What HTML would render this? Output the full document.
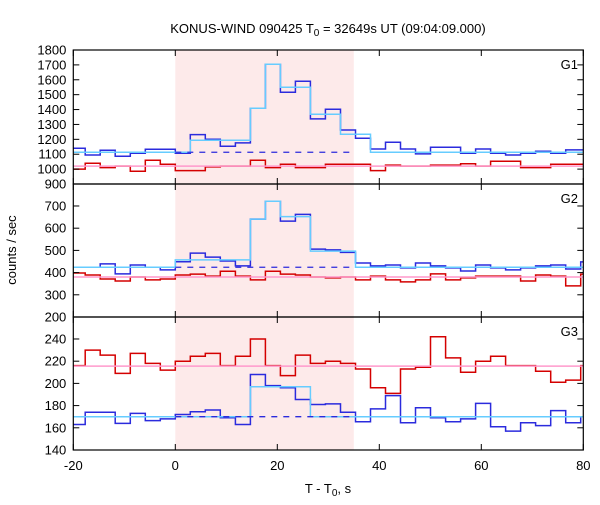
<!DOCTYPE html>
<html><head><meta charset="utf-8"><style>
body{margin:0;background:#fff}
text{font-family:"Liberation Sans","DejaVu Sans",sans-serif;font-size:13px;fill:#000}
</style></head><body>
<svg id="c" width="600" height="500" xmlns="http://www.w3.org/2000/svg"></svg>
<script>
const binWidth = 2.944;
const binStart = -7;
const g1Blue = [1140,1095,1127,1087,1107,1134,1134,1107,1232,1201,1154,1176,1409,1704,1516,1590,1337,1402,1263,1207,1135,1180,1135,1102,1147,1147,1107,1135,1107,1095,1107,1120,1107,1129,1129];
const g1Cyan = [1113,1113,1113,1113,1113,1113,1113,1113,1194,1194,1194,1194,1409,1704,1550,1550,1368,1368,1234,1234,1113,1113,1113,1113,1113,1113,1113,1113,1113,1113,1113,1113,1113,1113,1113];
const g1Red = [1000,1040,1010,1020,986,1060,1033,990,990,1015,1020,1020,1060,1010,1033,1010,1010,1033,1033,1033,990,1027,1020,1020,1027,1027,1036,1020,1053,1053,1010,1010,1033,1033,1033];
const g1Bg = 1113, g1Fit = 1020;
const g2Blue = [424,424,439,394,434,424,412,449,488,470,452,430,641,721,632,662,506,502,491,443,430,434,421,443,430,421,407,434,421,412,421,430,434,416,448];
const g2Cyan = [424,424,424,424,424,424,424,457,457,457,457,457,641,721,652,652,497,497,497,424,424,424,424,424,424,424,424,424,424,424,424,424,424,424,424];
const g2Red = [398,389,371,362,380,367,371,389,393,384,406,384,367,406,393,389,380,376,380,367,384,367,358,367,394,367,376,384,384,384,362,389,384,340,393];
const g2Bg = 424, g2Fit = 380;
const g3Blue = [163,174,174,164,173,166.5,168,172,174.5,176,169,163,208,198,196,185.5,181,181.5,174,165.5,177,189,164.5,178,169,165.5,168,182,161,157,164.5,162,175.5,164.5,170];
const g3Cyan = [170,170,170,170,170,170,170,170,170,170,170,170,197,197,197,197,170,170,170,170,170,170,170,170,170,170,170,170,170,170,170,170,170,170,170];
const g3Red = [216,230,225.5,209,227,218,212,220,224.5,227,216,224.5,240,216,207,225.5,218,220,218,213,196,191,213,214.5,242,223,210,220,224.5,216,216,211,201,203,216];
const g3Bg = 170, g3Fit = 215.5;
const xTicks = [-20,0,20,40,60,80];
const g1Ticks = [900,1000,1100,1200,1300,1400,1500,1600,1700,1800];
const g2Ticks = [200,300,400,500,600,700];
const g3Ticks = [140,160,180,200,220,240];

const NS='http://www.w3.org/2000/svg', svg=document.getElementById('c');
const X0=73.3, X1=583.3, xmin=-20, xmax=80;
const xs=v=>X0+(v-xmin)/(xmax-xmin)*(X1-X0);
function el(t,a,p){const e=document.createElementNS(NS,t);for(const k in a)e.setAttribute(k,a[k]);(p||svg).appendChild(e);return e;}
const panels=[
 {n:'g1',top:50,bot:184,lo:900,hi:1800,blue:g1Blue,cyan:g1Cyan,red:g1Red,bg:g1Bg,fit:g1Fit,ticks:g1Ticks},
 {n:'g2',top:184,bot:317,lo:200,hi:799,blue:g2Blue,cyan:g2Cyan,red:g2Red,bg:g2Bg,fit:g2Fit,ticks:g2Ticks},
 {n:'g3',top:317,bot:450,lo:140,hi:259.8,blue:g3Blue,cyan:g3Cyan,red:g3Red,bg:g3Bg,fit:g3Fit,ticks:g3Ticks}];
let sh=el('rect',{x:xs(0),y:50,width:xs(35)-xs(0),height:400,fill:'#fdeaea'});


function stepPath(vals,ys){let d='';vals.forEach((v,i)=>{let a=Math.max(xmin,(binStart+i)*binWidth),b=Math.min(xmax,(binStart+i+1)*binWidth);if(b<=a)return;const y=ys(v).toFixed(1);d+=(d?'L':'M')+xs(a).toFixed(1)+','+y+'L'+xs(b).toFixed(1)+','+y;});return d;}
panels.forEach((p,pi)=>{
 const ysF=v=>p.bot-(v-p.lo)/(p.hi-p.lo)*(p.bot-p.top);
 const g=el('g',{});
 
 
 let e;
 e=el('path',{d:stepPath(p.blue,ysF),fill:'none',stroke:'#2b2bdd','stroke-width':1.5},g);
 
 
 e=el('path',{d:stepPath(p.red,ysF),fill:'none',stroke:'#d40000','stroke-width':1.5},g);
 
 
 e=el('line',{x1:X0,x2:X1,y1:ysF(p.fit),y2:ysF(p.fit),stroke:'#ff99cc','stroke-width':1.5},g);
 
 
 e=el('path',{d:stepPath(p.cyan,ysF),fill:'none',stroke:'#66ccff','stroke-width':1.5},g);
 
 
 e=el('line',{x1:xs(0),x2:xs(35),y1:ysF(p.bg),y2:ysF(p.bg),stroke:'#2b2bdd','stroke-width':1.3,'stroke-dasharray':'6,6'},g);
 
 
 e=el('rect',{x:X0,y:p.top,width:X1-X0,height:p.bot-p.top,fill:'none',stroke:'#000','stroke-width':1.2},g);
 
 
 p.ticks.forEach(t=>{const y=ysF(t);
  el('line',{x1:X0,x2:X0+6,y1:y,y2:y,stroke:'#000'},g);el('line',{x1:X1-6,x2:X1,y1:y,y2:y,stroke:'#000'},g);
  const tx=el('text',{x:X0-7,y:y+4.5,'text-anchor':'end'},g);tx.textContent=t;
  
  
 });
 xTicks.forEach(t=>{const x=xs(t);el('line',{x1:x,x2:x,y1:p.top,y2:p.top+6,stroke:'#000'},g);el('line',{x1:x,x2:x,y1:p.bot-6,y2:p.bot,stroke:'#000'},g);});
 const lb=el('text',{x:578,y:p.top+19,'text-anchor':'end'},g);lb.textContent='G'+(pi+1);
 
 
});
xTicks.forEach(t=>{const tx=el('text',{x:xs(t),y:470,'text-anchor':'middle'});tx.textContent=t;
 
 });
</script>
<div style="position:absolute;left:0;top:0;width:600px;height:500px;pointer-events:none">
<svg width="600" height="500" xmlns="http://www.w3.org/2000/svg">
<text x="328" y="33" text-anchor="middle">KONUS-WIND 090425 T<tspan dy="3" font-size="10">0</tspan><tspan dy="-3"> = 32649s UT (09:04:09.000)</tspan></text>
<text x="328" y="493" text-anchor="middle">T - T<tspan dy="3" font-size="10">0</tspan><tspan dy="-3">, s</tspan></text>
<text transform="translate(16,250) rotate(-90)" text-anchor="middle">counts / sec</text>
</svg></div>
</body></html>
